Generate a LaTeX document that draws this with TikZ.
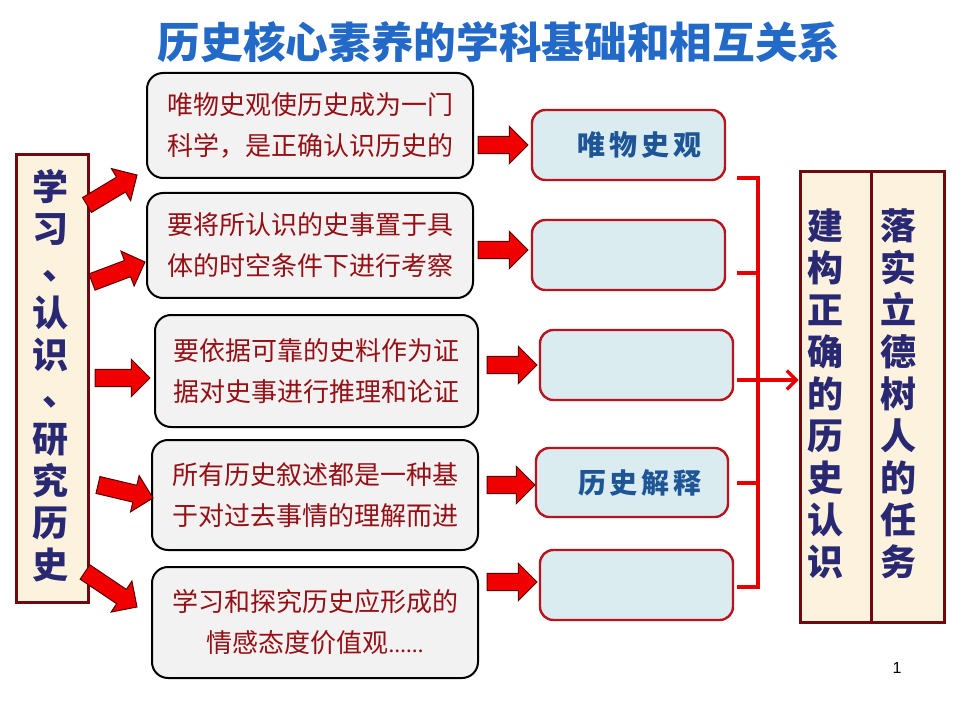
\documentclass[tikz,border=0pt]{standalone}
\usepackage{fontspec}
\setmainfont{Liberation Sans}
\newfontfamily\cjk{Noto Sans CJK SC}
\newfontfamily\latinserif{Liberation Serif}
\usetikzlibrary{calc,arrows.meta}
\definecolor{titleblue}{RGB}{35,105,200}
\definecolor{navytext}{RGB}{40,40,115}
\definecolor{cream}{RGB}{252,242,222}
\definecolor{scrollborder}{RGB}{110,10,15}
\definecolor{boxgray}{RGB}{242,242,242}
\definecolor{textred}{RGB}{150,15,20}
\definecolor{boxblue}{RGB}{218,236,240}
\definecolor{bborder}{RGB}{185,20,30}
\definecolor{btext}{RGB}{30,85,150}
\definecolor{brred}{RGB}{232,0,0}
\definecolor{arrowred}{RGB}{240,0,0}
\definecolor{arrowedge}{RGB}{90,0,0}
\newcommand\blkarrow[2]{%
  \filldraw[blockarrow]
    ($(#1)!6.5pt!90:(#2)$) --
    ($($(#2)!14pt!(#1)$)!6.5pt!90:(#2)$) --
    ($($(#2)!14pt!(#1)$)!14pt!90:(#2)$) --
    (#2) --
    ($($(#2)!14pt!(#1)$)!14pt!-90:(#2)$) --
    ($($(#2)!14pt!(#1)$)!6.5pt!-90:(#2)$) --
    ($(#1)!6.5pt!-90:(#2)$) -- cycle;}
\newcommand\vcomma{\raisebox{0.15em}{\hspace*{0.6em}、}}
\begin{document}
\begin{tikzpicture}[x=0.75pt,y=-0.75pt,
  graybox/.style={draw=black, line width=1.5pt, rounded corners=12pt, fill=boxgray,
    text=textred, font=\cjk\fontsize{19.5}{30.75}\selectfont, align=center,
    minimum width=244.5pt, inner sep=0pt},
  bluebox/.style={draw=bborder, line width=1.8pt, rounded corners=10pt, fill=boxblue,
    minimum width=144.75pt, minimum height=52.5pt, text=btext,
    font=\cjk\bfseries\fontsize{21}{25}\selectfont, inner sep=0pt},
  scroll/.style={draw=scrollborder, line width=2.25pt, fill=cream, inner sep=0pt},
  vtext/.style={align=center, text=navytext, inner sep=0pt,
    font=\cjk\bfseries\fontsize{27}{31.5}\selectfont},
  bracket/.style={draw=brred, line width=3pt},
  blockarrow/.style={fill=arrowred, draw=arrowedge, line width=0.75pt, line join=miter}]
\useasboundingbox (0,0) rectangle (960,720);

% title
\node[font=\cjk\bfseries\fontsize{32}{36}\selectfont, text=titleblue] (title) at (499,42)
  {历史核心素养的学科基础和相互关系};

% left scroll
\node[scroll, minimum width=54pt, minimum height=335.25pt] (left) at (52,378.5) {};
\node[vtext] (lefttext) at (50,376)
  {学\\习\\\vcomma\\认\\识\\\vcomma\\研\\究\\历\\史};

% gray boxes
\node[graybox, minimum height=78.75pt] (g1) at (310,125.5)
  {唯物史观使历史成为一门\\科学，是正确认识历史的};
\node[graybox, minimum height=78.75pt] (g2) at (310,245.5)
  {要将所认识的史事置于具\\体的时空条件下进行考察};
\node[graybox, minimum width=242.25pt, minimum height=84pt] (g3) at (316.5,371)
  {要依据可靠的史料作为证\\据对史事进行推理和论证};
\node[graybox, minimum height=82.5pt] (g4) at (315,495)
  {所有历史叙述都是一种基\\于对过去事情的理解而进};
\node[graybox, minimum height=83.25pt] (g5) at (315,622.5)
  {学习和探究历史应形成的\\情感态度价值观{\latinserif\bfseries\fontsize{13}{13}\selectfont ……}};

% blue boxes
\node[bluebox] (b1) at (628.5,145) {\hspace*{17pt}唯\kern3pt物\kern3pt史\kern3pt观};
\node[bluebox] (b2) at (628.5,255) {};
\node[bluebox] (b3) at (636.5,365) {};
\node[bluebox, minimum width=144pt, minimum height=51.75pt] (b4) at (632,482.5) {\hspace*{12pt}历\kern3pt史\kern3pt解\kern3pt释};
\node[bluebox] (b5) at (636.5,585) {};

% right scrolls
\node[scroll, minimum width=53.25pt, minimum height=337.5pt] (r1) at (835.5,397) {};
\node[scroll, minimum width=54.75pt, minimum height=337.5pt] (r2) at (907.5,397) {};
\node[vtext] (r1text) at (825,393.5) {建\\构\\正\\确\\的\\历\\史\\认\\识};
\node[vtext] (r2text) at (898,393.5) {落\\实\\立\\德\\树\\人\\的\\任\\务};

% page number
\node[font=\fontsize{12}{14}\selectfont] (page) at (897,668) {1};

% left block arrows
\coordinate (la1s) at (87,205);  \coordinate (la1e) at (137,175);
\coordinate (la2s) at (92,282);  \coordinate (la2e) at (145,262);
\coordinate (la3s) at (95,378);  \coordinate (la3e) at (150,378);
\coordinate (la4s) at (98,485);  \coordinate (la4e) at (153,498);
\coordinate (la5s) at (85,572);  \coordinate (la5e) at (137,607);
\blkarrow{la1s}{la1e}
\blkarrow{la2s}{la2e}
\blkarrow{la3s}{la3e}
\blkarrow{la4s}{la4e}
\blkarrow{la5s}{la5e}

% middle block arrows
\coordinate (ma1s) at (478,145); \coordinate (ma1e) at (528,145);
\coordinate (ma2s) at (478,250); \coordinate (ma2e) at (528,250);
\coordinate (ma3s) at (487,365); \coordinate (ma3e) at (537,365);
\coordinate (ma4s) at (487,485); \coordinate (ma4e) at (535,485);
\coordinate (ma5s) at (487,582); \coordinate (ma5e) at (537,582);
\blkarrow{ma1s}{ma1e}
\blkarrow{ma2s}{ma2e}
\blkarrow{ma3s}{ma3e}
\blkarrow{ma4s}{ma4e}
\blkarrow{ma5s}{ma5e}

% bracket
\coordinate (t1) at (737,178); \coordinate (v1) at (758,178);
\coordinate (t2) at (737,273);
\coordinate (t3) at (737,380); \coordinate (v3) at (758,380);
\coordinate (t4) at (737,483);
\coordinate (t5) at (737,587); \coordinate (v5) at (758,587);
\draw[bracket] (t1) -- (v1) -- (v5) -- (t5);
\draw[bracket] (t2) -- (t2 -| v1);
\draw[bracket] (t3) -- (v3);
\draw[bracket] (t4) -- (t4 -| v1);
\draw[bracket, line width=2.5pt, -{Straight Barb[length=7pt,width=14pt,line width=2.5pt]}]
  (v3) -- (v3 -| r1.west);
\end{tikzpicture}
\end{document}
